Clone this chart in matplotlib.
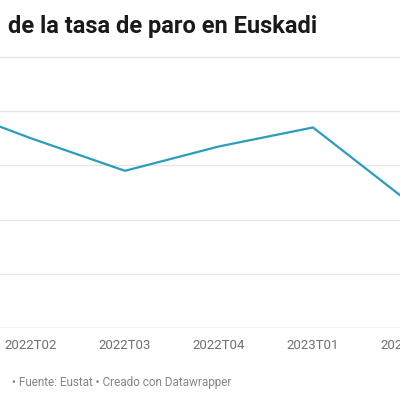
import matplotlib
matplotlib.use('Agg')
import matplotlib.pyplot as plt

# Tasa de paro (%) por trimestre
quarters = ['2022T01', '2022T02', '2022T03', '2022T04', '2023T01', '2023T02']
paro = [8.3, 7.0, 5.8, 6.7, 7.4, 4.7]
y_ticks = [0, 2, 4, 6, 8, 10]

plt.rcParams['font.family'] = ['Roboto', 'DejaVu Sans']

fig = plt.figure(figsize=(4, 4), dpi=100)
fig.patch.set_facecolor('white')

# the reference is a crop of a wider chart, so the axes run past the figure edges
W, H = 400, 400
px_left, px_right = -80, 440
px_bottom = 328
unit = 27.1  # px per percentage point
ymax = 10.3
ax = fig.add_axes([px_left / W, (H - px_bottom) / H,
                   (px_right - px_left) / W, unit * ymax / H])

x = list(range(len(quarters)))
ax.plot(x, paro, color='#2a9dbf', linewidth=1.6, solid_joinstyle='miter',
        solid_capstyle='butt', zorder=3)

# map pixel edges to data index: label 2022T02 (index 1) sits at 31 px, step 94 px
ax.set_xlim((px_left - 31) / 94 + 1, (px_right - 31) / 94 + 1)
ax.set_ylim(0, ymax)

ax.set_yticks(y_ticks)
ax.set_yticklabels([])
ax.grid(axis='y', color='#e6e6e6', linewidth=1.0)
ax.axhline(0, color='#d6d6d6', linewidth=1.0, zorder=2)
ax.set_axisbelow(True)

# the first quarter falls left of the crop, so only the visible ones get a label
ax.set_xticks(x[1:])
ax.set_xticklabels(quarters[1:])
ax.tick_params(axis='x', length=0, pad=8, labelsize=9.5, labelcolor='#707070')
ax.tick_params(axis='y', length=0)
for s in ax.spines.values():
    s.set_visible(False)

fig.text(8 / W, 1 - 33 / H, 'de la tasa de paro en Euskadi', fontsize=17,
         fontweight='bold', color='#1a1a1a', va='baseline', ha='left')
fig.text(12 / W, 1 - 386 / H, '• Fuente: Eustat • Creado con Datawrapper',
         fontsize=8.5, color='#858585', va='baseline', ha='left')

fig.savefig('out.png', dpi=100, facecolor='white')
